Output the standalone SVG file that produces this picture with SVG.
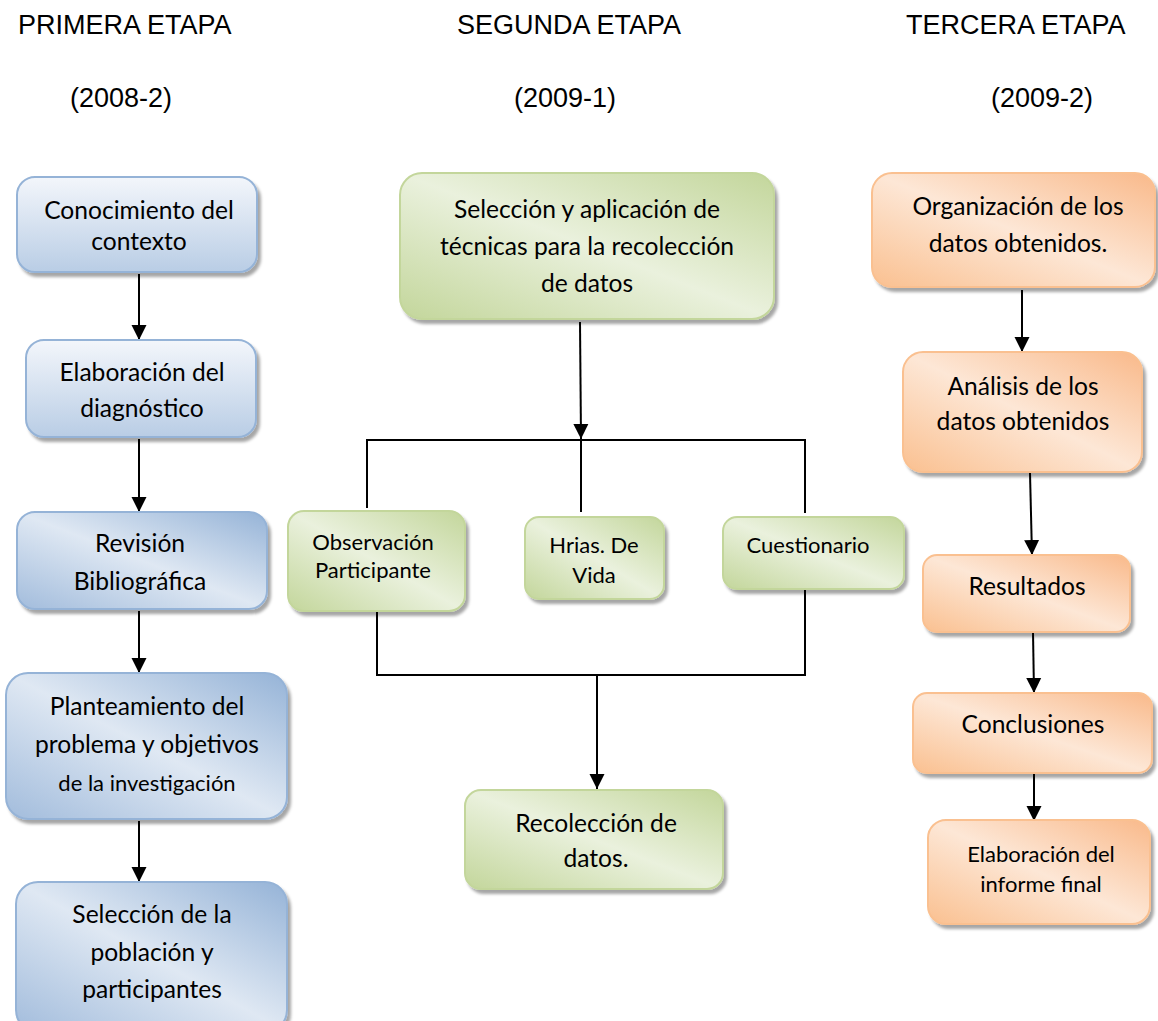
<svg xmlns="http://www.w3.org/2000/svg" width="1158" height="1021" viewBox="0 0 1158 1021">
<style>
.hdr{font-family:"Liberation Sans",Arial,sans-serif;font-size:27px;fill:#000}
.t{font-family:Lato,"Open Sans",sans-serif;font-size:24.6px;fill:#000;text-anchor:middle}
.s{font-family:Lato,"Open Sans",sans-serif;font-size:22px;fill:#000;text-anchor:middle}
.blue{stroke:#95b3d7;stroke-width:2;filter:url(#sh)}
.green{stroke:#c3d69b;stroke-width:2;filter:url(#sh)}
.orange{stroke:#fac090;stroke-width:2;filter:url(#sh)}
.c{fill:none;stroke:#000;stroke-width:2}
.a{fill:none;stroke:#000;stroke-width:2;marker-end:url(#ah)}
</style>
<defs>
<filter id="sh" x="-10%" y="-10%" width="130%" height="130%">
<feDropShadow dx="3" dy="4" stdDeviation="1.5" flood-color="#000" flood-opacity="0.35"/>
</filter>
<marker id="ah" markerUnits="userSpaceOnUse" markerWidth="18" markerHeight="18" viewBox="0 0 18 18" refX="15" refY="9" orient="auto">
<path d="M0,1.5 L15,9 L0,16.5 Z" fill="#000"/>
</marker>
<linearGradient id="gbl" x1="0" y1="0" x2="0" y2="1">
<stop offset="0" stop-color="#f3f6fb"/>
<stop offset="1" stop-color="#b9cde5"/>
</linearGradient>
<linearGradient id="gbd" x1="1" y1="0" x2="0" y2="1">
<stop offset="0" stop-color="#95b3d7"/>
<stop offset="0.5" stop-color="#dfe8f3"/>
<stop offset="1" stop-color="#a2bcdc"/>
</linearGradient>
<linearGradient id="gg" x1="1" y1="0" x2="0" y2="1">
<stop offset="0" stop-color="#c3d69b"/>
<stop offset="0.5" stop-color="#eaf1dd"/>
<stop offset="1" stop-color="#c3d69b"/>
</linearGradient>
<linearGradient id="go" x1="1" y1="0" x2="0" y2="1">
<stop offset="0" stop-color="#f9b98a"/>
<stop offset="0.5" stop-color="#fde7d6"/>
<stop offset="1" stop-color="#fac090"/>
</linearGradient>
</defs>
<rect width="1158" height="1021" fill="#fff"/>

<g id="headers">
<text class="hdr" x="18" y="34">PRIMERA ETAPA</text>
<text class="hdr" x="70" y="107">(2008-2)</text>
<text class="hdr" x="457" y="34">SEGUNDA ETAPA</text>
<text class="hdr" x="514" y="107">(2009-1)</text>
<text class="hdr" x="906" y="34">TERCERA ETAPA</text>
<text class="hdr" x="991" y="107">(2009-2)</text>
</g>

<g id="connectors">
<line class="a" x1="139" y1="274" x2="139" y2="340"/>
<line class="a" x1="139" y1="439" x2="139" y2="512"/>
<line class="a" x1="139" y1="611" x2="139" y2="673"/>
<line class="a" x1="139" y1="821" x2="139" y2="882"/>
<line class="a" x1="580" y1="322" x2="581" y2="439"/>
<polyline class="c" points="367,508 367,440 805,440 805,513"/>
<line class="c" x1="581" y1="439" x2="581" y2="512"/>
<polyline class="c" points="377,610 377,675 805,675 805,590"/>
<line class="a" x1="597" y1="675" x2="597" y2="789"/>
<line class="a" x1="1022" y1="290" x2="1022" y2="352"/>
<line class="a" x1="1030" y1="473" x2="1032" y2="555"/>
<line class="a" x1="1033" y1="632" x2="1034" y2="693"/>
<line class="a" x1="1034" y1="773" x2="1034" y2="821"/>
</g>

<g id="n1"><rect class="blue" x="17" y="177" width="240" height="95" rx="18" fill="url(#gbl)"/>
<text class="t" x="139" y="219">Conocimiento del</text><text class="t" x="139" y="250">contexto</text></g>
<g id="n2"><rect class="blue" x="26" y="340" width="230" height="97" rx="18" fill="url(#gbl)"/>
<text class="t" x="142" y="381">Elaboración del</text><text class="t" x="142" y="417">diagnóstico</text></g>
<g id="n3"><rect class="blue" x="17" y="512" width="250" height="97" rx="18" fill="url(#gbd)"/>
<text class="t" x="140" y="552">Revisión</text><text class="t" x="140" y="590">Bibliográfica</text></g>
<g id="n4"><rect class="blue" x="6" y="673" width="281" height="146" rx="22" fill="url(#gbd)"/>
<text class="t" x="147" y="715">Planteamiento del</text><text class="t" x="147" y="753">problema y objetivos</text><text class="s" x="147" y="791">de la investigación</text></g>
<g id="n5"><rect class="blue" x="16" y="882" width="271" height="150" rx="22" fill="url(#gbd)"/>
<text class="t" x="152" y="923">Selección de la</text><text class="t" x="152" y="961">población y</text><text class="t" x="152" y="998">participantes</text></g>

<g id="m1"><rect class="green" x="400" y="173" width="374" height="146" rx="22" fill="url(#gg)"/>
<text class="t" x="587" y="218">Selección y aplicación de</text><text class="t" x="587" y="255">técnicas para la recolección</text><text class="t" x="587" y="292">de datos</text></g>
<g id="m2"><rect class="green" x="288" y="511" width="177" height="100" rx="16" fill="url(#gg)"/>
<text class="s" x="373" y="550">Observación</text><text class="s" x="373" y="578">Participante</text></g>
<g id="m3"><rect class="green" x="525" y="517" width="139" height="82" rx="14" fill="url(#gg)"/>
<text class="s" x="594" y="553">Hrias. De</text><text class="s" x="594" y="583">Vida</text></g>
<g id="m4"><rect class="green" x="723" y="517" width="181" height="72" rx="14" fill="url(#gg)"/>
<text class="s" x="808" y="553">Cuestionario</text></g>
<g id="m5"><rect class="green" x="465" y="790" width="258" height="99" rx="16" fill="url(#gg)"/>
<text class="t" x="596" y="832">Recolección de</text><text class="t" x="596" y="867">datos.</text></g>

<g id="r1"><rect class="orange" x="872" y="173" width="283" height="114" rx="20" fill="url(#go)"/>
<text class="t" x="1018" y="215">Organización de los</text><text class="t" x="1018" y="252">datos obtenidos.</text></g>
<g id="r2"><rect class="orange" x="903" y="352" width="239" height="120" rx="20" fill="url(#go)"/>
<text class="t" x="1023" y="395">Análisis de los</text><text class="t" x="1023" y="430">datos obtenidos</text></g>
<g id="r3"><rect class="orange" x="923" y="555" width="207" height="77" rx="14" fill="url(#go)"/>
<text class="t" x="1027" y="595">Resultados</text></g>
<g id="r4"><rect class="orange" x="913" y="693" width="239" height="80" rx="14" fill="url(#go)"/>
<text class="t" x="1033" y="733">Conclusiones</text></g>
<g id="r5"><rect class="orange" x="928" y="820" width="222" height="104" rx="18" fill="url(#go)"/>
<text class="s" x="1041" y="862">Elaboración del</text><text class="s" x="1041" y="892">informe final</text></g>
</svg>
